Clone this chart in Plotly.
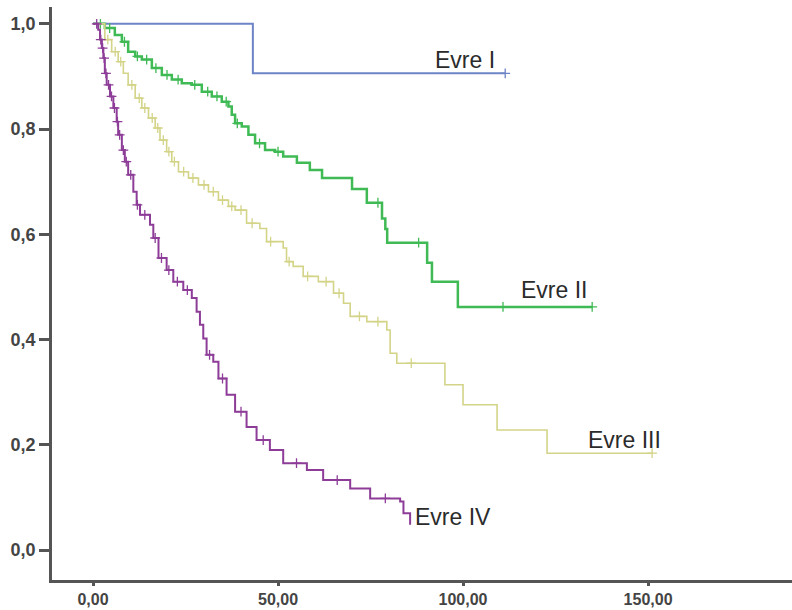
import numpy as np
import plotly.graph_objects as go

# ---- data (time, cumulative survival) ----
evre1_t = [0, 43.2, 111.4]
evre1_s = [1.0, 0.906, 0.906]
evre1_cens = [111.4]

evre2_t = [0, 3.2, 5.9, 7.8, 9.5, 11.4, 13.2, 15.9, 18.6, 21.3, 24.0, 26.7, 29.4, 32.1,
           34.8, 36.6, 37.5, 38.4, 40.2, 42.0, 43.8, 46.5, 49.2, 51.4, 55.1, 58.6, 61.9,
           70.0, 74.0, 78.1, 79.0, 79.5, 90.3, 91.6, 98.6, 134.9]
evre2_s = [1.0, 0.992, 0.979, 0.966, 0.947, 0.938, 0.932, 0.916, 0.903, 0.894, 0.887, 0.884,
           0.871, 0.862, 0.852, 0.843, 0.827, 0.811, 0.805, 0.789, 0.773, 0.760, 0.757, 0.748,
           0.736, 0.722, 0.707, 0.686, 0.660, 0.630, 0.610, 0.584, 0.546, 0.510, 0.462, 0.462]
evre2_cens = [2.0, 4.5, 8.5, 12.0, 14.5, 17.0, 20.0, 23.0, 27.5, 31.0, 33.5, 36.0, 39.0,
              45.0, 50.0, 77.0, 88.0, 110.8, 134.9]

evre3_t = [0, 3.2, 5.05, 6.8, 8.2, 9.5, 11.4, 13.2, 15.0, 16.8, 18.1, 19.9, 21.3, 23.1,
           25.8, 28.5, 31.2, 33.9, 36.6, 38.4, 41.5, 45.1, 46.9, 51.4, 52.3, 54.1, 56.8,
           60.9, 65.0, 67.7, 69.5, 74.0, 79.4, 80.3, 82.1, 95.1, 100.0, 109.2, 122.7, 151.1]
evre3_s = [1.0, 0.970, 0.947, 0.928, 0.906, 0.884, 0.859, 0.840, 0.821, 0.802, 0.779, 0.757,
           0.738, 0.719, 0.707, 0.694, 0.681, 0.665, 0.653, 0.646, 0.621, 0.611, 0.586, 0.574,
           0.548, 0.539, 0.520, 0.510, 0.488, 0.469, 0.444, 0.434, 0.418, 0.374, 0.355, 0.314,
           0.276, 0.228, 0.184, 0.184]
evre3_cens = [4.0, 6.0, 7.5, 10.5, 12.5, 14.0, 16.0, 17.5, 19.0, 20.5, 22.0, 24.5, 27.0,
              30.0, 32.5, 35.0, 37.5, 40.0, 43.0, 48.0, 53.0, 58.0, 63.0, 66.5, 72.0, 77.0,
              86.0, 151.1]

evre4_t = [0, 1.4, 1.9, 2.4, 2.8, 3.2, 3.7, 4.6, 5.5, 6.4, 6.8, 7.8, 8.6, 9.5, 10.9, 11.8,
           12.7, 15.4, 16.3, 17.7, 19.9, 21.7, 24.4, 26.7, 28.0, 28.9, 29.8, 30.7, 32.5, 33.9,
           36.1, 38.4, 41.5, 44.2, 47.8, 51.4, 57.8, 62.2, 69.5, 74.9, 83.0, 83.9, 85.7]
evre4_s = [1.0, 0.989, 0.970, 0.954, 0.935, 0.906, 0.884, 0.862, 0.840, 0.814, 0.789, 0.760,
           0.738, 0.713, 0.681, 0.656, 0.637, 0.618, 0.593, 0.555, 0.532, 0.510, 0.494, 0.479,
           0.453, 0.428, 0.402, 0.371, 0.358, 0.326, 0.295, 0.263, 0.234, 0.209, 0.190, 0.165,
           0.152, 0.133, 0.117, 0.098, 0.092, 0.070, 0.048]
evre4_cens = [1.0, 2.1, 2.6, 3.0, 3.5, 4.2, 5.0, 5.8, 6.6, 7.2, 8.2, 9.0, 10.2, 12.0, 14.0,
              16.8, 18.5, 20.5, 22.8, 25.5, 31.5, 35.0, 40.0, 46.0, 55.0, 66.0, 79.0]

labels = ["Evre I", "Evre II", "Evre III", "Evre IV"]
label_x = [92.0, 115.2, 133.3, 86.6]
label_y = [0.932, 0.494, 0.209, 0.063]

x_ticks = [0, 50, 100, 150]
y_ticks = [0.0, 0.2, 0.4, 0.6, 0.8, 1.0]

colors = ["#6d84c6", "#3fba55", "#d3d488", "#8d3d98"]
widths = [2, 2.5, 1.6, 2]

groups = [(evre1_t, evre1_s, evre1_cens), (evre2_t, evre2_s, evre2_cens),
          (evre3_t, evre3_s, evre3_cens), (evre4_t, evre4_s, evre4_cens)]


def step_value(t, s, q):
    t = np.asarray(t)
    s = np.asarray(s)
    idx = np.searchsorted(t, q, side="right") - 1
    idx = np.clip(idx, 0, len(s) - 1)
    return s[idx]


fig = go.Figure()
for (t, s, c), col, w, name in zip(groups, colors, widths, labels):
    fig.add_trace(go.Scatter(x=t, y=s, mode="lines", line=dict(color=col, width=w, shape="hv"),
                             name=name, showlegend=False))
    fig.add_trace(go.Scatter(x=c, y=step_value(t, s, c), mode="markers",
                             marker=dict(symbol="cross-thin", size=7,
                                         line=dict(color=col, width=1.3)),
                             showlegend=False))

for txt, lx, ly in zip(labels, label_x, label_y):
    fig.add_annotation(x=lx, y=ly, xref="x", yref="y", text=txt, showarrow=False,
                       xanchor="left", yanchor="middle",
                       font=dict(family="Liberation Sans", size=23, color="#2b2b2b"))

fig.update_layout(
    width=792, height=610,
    margin=dict(l=52, r=0, t=7, b=30),
    paper_bgcolor="white", plot_bgcolor="white",
    separators=",.",
    font=dict(family="Liberation Sans", size=17, color="#444444"),
)
fig.update_xaxes(range=[-11.08, 188.9], tickvals=x_ticks, tickformat=".2f", automargin=False,
                 showgrid=False, zeroline=False, showline=True, linecolor="#555555",
                 linewidth=2.5, ticks="outside", ticklen=3, tickwidth=2.5, tickcolor="#555555",
                 tickfont=dict(size=16, color="#444444", weight="bold"))
fig.update_yaxes(range=[-0.057, 1.032], tickvals=y_ticks, tickformat=".1f", automargin=False,
                 showgrid=False, zeroline=False, showline=True, linecolor="#555555",
                 linewidth=2.5, ticks="outside", ticklen=10, tickwidth=2.5, tickcolor="#555555",
                 tickfont=dict(size=18, color="#444444", weight="bold"))

fig.write_html("out.html", config={"displayModeBar": False},
               post_script="document.body.style.margin='0';document.body.style.overflow='hidden';")
